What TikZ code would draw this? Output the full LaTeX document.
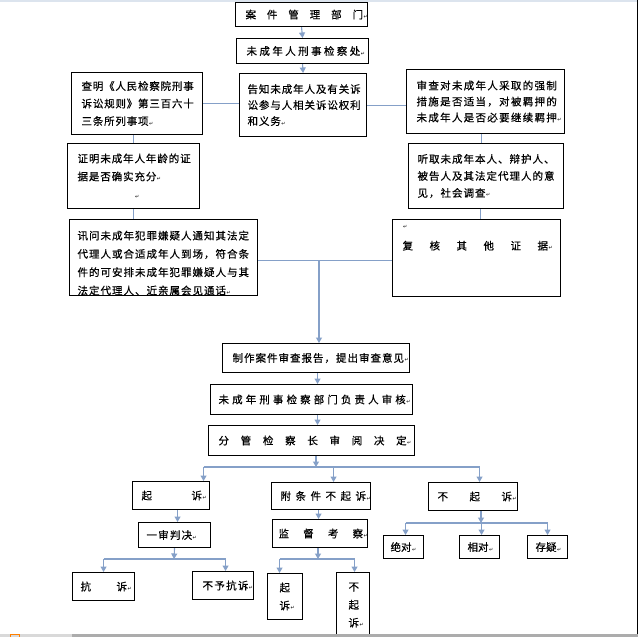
\documentclass[tikz,border=0pt]{standalone}
\usepackage{fontspec}
\setmainfont{Noto Sans CJK SC}[FakeBold=0.5]
\newfontfamily\markfont{DejaVu Sans}
\usetikzlibrary{arrows.meta}
\definecolor{lb}{RGB}{133,160,200}
\definecolor{topband}{RGB}{220,228,238}
\makeatletter
\newcommand\spread[2]{\def\sp@first{1}\@tfor\sp@c:=#2\do{\ifx\sp@first\@empty\kern#1\fi\sp@c\let\sp@first\@empty}}
\makeatother
\newcommand\mk{{\markfont\fontsize{5}{5}\selectfont\kern0.5pt↵}}
\newcommand\bx[8]{\node[box, anchor=north west, minimum width={#4pt-#2pt}, minimum height={#5pt-#3pt}] (#1) at (#2,#3) {\raisebox{#7pt}[\height][\depth]{\parbox{\dimexpr #4pt-#2pt-#6pt-#6pt\relax}{#8}}};}
\begin{document}
\begin{tikzpicture}[x=1pt,y=-1pt,
  box/.style={draw=black,line width=1.1pt,inner sep=0pt,font=\fontsize{10.5}{17}\selectfont},
  conn/.style={draw=lb,line width=1.1pt},
  arr/.style={conn,-{Triangle[length=5.5pt,width=6pt]}}]
\useasboundingbox (0,0) rectangle (638,637);
\fill[white] (0,0) rectangle (638,637);
\fill[topband] (0,0) rectangle (638,2);

\bx{b1}{235}{2}{367}{26}{10}{0}{\spread{10.9pt}{案件管理部门}\mk}
\bx{b2}{236}{38}{368}{63}{10}{0}{\spread{2.4pt}{未成年人刑事检察处}\mk}
\bx{b3}{239}{73}{366}{136}{8}{0}{\fontsize{10.5}{16}\selectfont\spread{0.9pt}{告知未成年人及有关诉}\\\spread{0.9pt}{讼参与人相关诉讼权利}\\\spread{0.9pt}{和义务}\mk}
\bx{bA}{71}{72}{202}{134}{10}{0}{\fontsize{10.5}{17.5}\selectfont\spread{0.8pt}{查明《人民检察院刑事}\\\spread{0.8pt}{诉讼规则》第三百六十}\\\spread{0.8pt}{三条所列事项}\mk}
\bx{bD}{406}{69}{564}{133}{10}{0}{\fontsize{10.5}{16}\selectfont\spread{1.3pt}{审查对未成年人采取的强制}\\\spread{1.3pt}{措施是否适当，对被羁押的}\\\spread{1.3pt}{未成年人是否必要继续羁押}\mk}
\bx{bB}{67}{143}{199}{208}{10}{0}{\fontsize{10.5}{18}\selectfont\spread{0.9pt}{证明未成年人年龄的证}\\\spread{0.9pt}{据是否确实充分}\mk\\\hspace*{57pt}\mk}
\bx{bE}{408}{143}{563}{208}{9}{0}{\fontsize{10.5}{17}\selectfont\spread{1pt}{听取未成年本人、辩护人、}\\\spread{1pt}{被告人及其法定代理人的意}\\\spread{1pt}{见，社会调查}\mk}
\bx{bC}{69}{219}{257}{295}{8}{-5.5}{\fontsize{10.5}{18.3}\selectfont\spread{1pt}{讯问未成年犯罪嫌疑人通知其法定}\\\spread{1pt}{代理人或合适成年人到场，符合条}\\\spread{1pt}{件的可安排未成年犯罪嫌疑人与其}\\\spread{1pt}{法定代理人、近亲属会见通话}\mk}
\bx{bF}{392}{219}{560}{296}{10}{20}{\rlap{\raisebox{4pt}{\mk}}\spread{16.5pt}{复核其他证据}\mk}
\bx{bG}{222}{343}{409}{372}{10}{0}{\spread{1pt}{制作案件审查报告，提出审查意见}\mk}
\bx{bH}{210}{384}{412}{414}{8}{0}{\spread{3.1pt}{未成年刑事检察部门负责人审核}\mk}
\bx{bI}{208}{425}{414}{455}{10}{0}{\spread{11.7pt}{分管检察长审阅决定}\mk}
\bx{bJ}{132}{481}{209}{509}{9}{0}{\spread{39.5pt}{起诉}\mk}
\bx{bK}{138}{522}{210}{547}{8}{0}{\spread{1.2pt}{一审判决}\mk}
\bx{bL}{72}{572}{134}{600}{8}{0}{\spread{25.5pt}{抗诉}\mk}
\bx{bM}{192}{571}{253}{599}{10}{0}{\spread{1.3pt}{不予抗诉}\mk}
\bx{bO}{271}{482}{370}{509}{9}{0}{\spread{4.5pt}{附条件不起诉}\mk}
\bx{bP}{272}{519}{367}{547}{6}{0}{\spread{14.2pt}{监督考察}\mk}
\bx{bN}{267}{573}{302}{619}{12}{0}{\fontsize{10.5}{18}\selectfont 起\\诉\mk}
\bx{bQ}{336}{572}{369}{637}{12}{0}{\fontsize{10.5}{18}\selectfont 不\\起\\诉\mk}
\bx{bR}{428}{482}{517}{510}{9}{0}{\spread{21.5pt}{不起诉}\mk}
\bx{bS}{383}{535}{423}{558}{7}{0}{绝对\mk}
\bx{bT}{459}{535}{499}{558}{8}{0}{相对\mk}
\bx{bU}{527}{535}{567}{558}{8}{0}{存疑\mk}

% upper connectors
\draw[arr] (b1.south) -- (b2.north);
\draw[arr] (b2.south) -- (b3.north);
\draw[conn] (bA.east) -- (bA.east -| b3.west);
\draw[conn] (b3.east) -- (b3.east -| bD.west);
\draw[conn] (bA.south -| bB.north) -- (bB.north);
\draw[conn] (bB.south) -- (bB.south |- bC.north);
\draw[conn] ([xshift=-4.5pt]bE.north) -- ([xshift=-4.5pt]bE.north |- bD.south);
\draw[conn] ([xshift=-5.5pt]bE.south) -- ([xshift=-5.5pt]bE.south |- bF.north);
\coordinate (j1) at (319,260);
\draw[conn] ([yshift=-3pt]bC.east) -- ([yshift=-3pt]bC.east -| bF.west);
\draw[arr] (j1) -- (j1 |- bG.north);
\draw[arr] ([xshift=1.5pt]bG.south) -- ([xshift=1.5pt]bG.south |- bH.north);
\draw[arr] ([xshift=6pt]bH.south) -- ([xshift=6pt]bH.south |- bI.north);

% decision branches
\coordinate (j2) at (316,467);
\draw[arr] (bI.south -| j2) -- (j2);
\coordinate (j2a) at ([xshift=32.5pt]bJ.north |- j2);
\coordinate (j2b) at ([xshift=12.5pt]bO.north |- j2);
\coordinate (j2c) at ([xshift=6.5pt]bR.north |- j2);
\draw[conn] (j2a) -- (j2c);
\draw[arr] (j2a) -- (j2a |- bJ.north);
\draw[arr] (j2b) -- (j2b |- bO.north);
\draw[arr] (j2c) -- (j2c |- bR.north);

% prosecution branch
\draw[arr] ([xshift=6.5pt]bJ.south) -- ([xshift=6.5pt]bJ.south |- bK.north);
\coordinate (j3) at (174,559);
\draw[arr] (bK.south) -- (j3);
\coordinate (j3a) at (bL.north |- j3);
\coordinate (j3b) at ([xshift=2.5pt]bM.north |- j3);
\draw[conn] (j3a) -- (j3b);
\draw[arr] (j3a) -- (bL.north);
\draw[arr] (j3b) -- (j3b |- bM.north);

% conditional non-prosecution branch
\draw[arr] ([xshift=-2.5pt]bO.south) -- ([xshift=-2.5pt]bO.south |- bP.north);
\coordinate (j4) at (318,559);
\draw[arr] (bP.south -| j4) -- (j4);
\coordinate (j4a) at ([xshift=-5.5pt]bN.north |- j4);
\coordinate (j4b) at ([xshift=1.5pt]bQ.north |- j4);
\draw[conn] (j4a) -- (j4b);
\draw[arr] (j4a) -- (j4a |- bN.north);
\draw[arr] (j4b) -- (j4b |- bQ.north);

% non-prosecution branch
\coordinate (j5) at (481,523);
\draw[arr] (bR.south -| j5) -- (j5);
\coordinate (j5a) at ([xshift=2pt]bS.north |- j5);
\coordinate (j5b) at ([xshift=2pt]bT.north |- j5);
\coordinate (j5c) at (bU.north |- j5);
\draw[conn] (j5a) -- (j5c);
\draw[arr] (j5a) -- (j5a |- bS.north);
\draw[arr] (j5b) -- (j5b |- bT.north);
\draw[arr] (j5c) -- (bU.north);

% window edges
\draw[black,line width=1pt] (637.5,0) -- (637.5,634);
\fill[gray!30] (0,634) rectangle (638,637);
\fill[gray!65] (72,634) rectangle (638,637);
\draw[orange,line width=0.8pt] (10.5,634.5) rectangle (19.5,637);
\end{tikzpicture}
\end{document}
